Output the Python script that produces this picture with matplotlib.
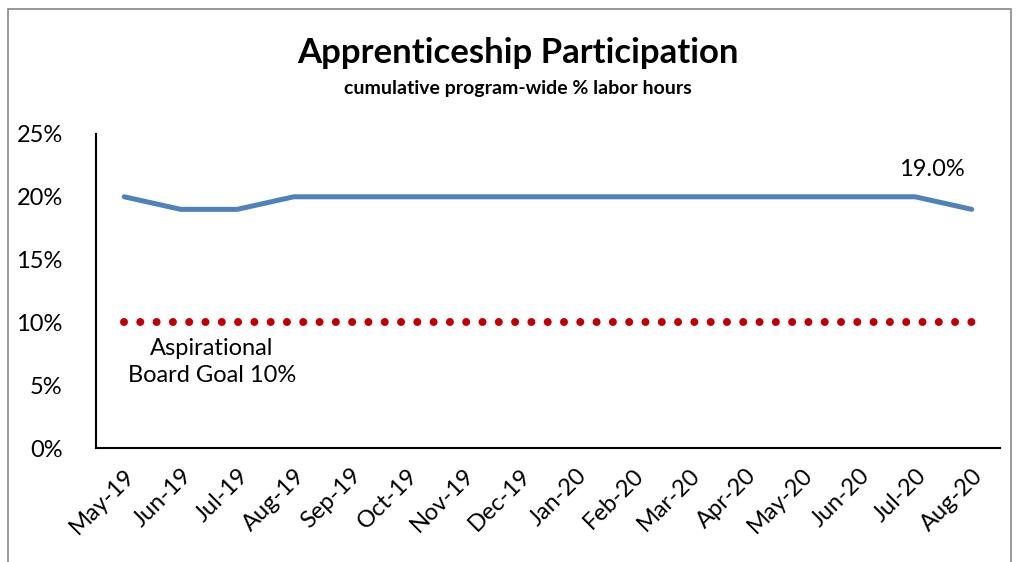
import matplotlib.pyplot as plt
from matplotlib.patches import Rectangle

months = ["May-19", "Jun-19", "Jul-19", "Aug-19", "Sep-19", "Oct-19", "Nov-19", "Dec-19",
          "Jan-20", "Feb-20", "Mar-20", "Apr-20", "May-20", "Jun-20", "Jul-20", "Aug-20"]
participation = [20, 19, 19, 20, 20, 20, 20, 20, 20, 20, 20, 20, 20, 20, 20, 19]
goal = [10] * len(months)

plt.rcParams['font.family'] = ['Lato', 'DejaVu Sans']

fig = plt.figure(figsize=(10.19, 5.62), dpi=100)
ax = fig.add_axes([0.0942, 0.2028, 0.8871, 0.5588])

x = list(range(len(months)))
ax.plot(x, participation, color="#4F81BD", linewidth=3.6, solid_capstyle="round")
ax.plot(x, goal, color="#C00000", linestyle=(0, (0.001, 2.036)), linewidth=5.76,
        dash_capstyle="round")

ax.set_xlim(-0.5, len(months) - 0.5)
ax.set_ylim(0, 25)
ax.set_yticks([0, 5, 10, 15, 20, 25])
ax.set_yticklabels([f"{v}%" for v in [0, 5, 10, 15, 20, 25]])
ax.set_xticks(x)
ax.set_xticklabels(months, rotation=45, ha="right", rotation_mode="anchor")
ax.tick_params(axis="both", length=0, labelsize=17)
ax.tick_params(axis="x", pad=12)
ax.tick_params(axis="y", pad=24)

for s in ["top", "right"]:
    ax.spines[s].set_visible(False)
for s in ["left", "bottom"]:
    ax.spines[s].set_linewidth(1.5)

ax.annotate(f"{participation[-1]:.1f}%", xy=(x[-1], participation[-1]),
            xytext=(-29, 29), textcoords="offset points", ha="center", va="center",
            fontsize=17)
ax.text(1.55, 6.85, "Aspirational\nBoard Goal 10%", ha="center", va="center",
        fontsize=17, linespacing=1.3)

fig.text(0.508, 0.905, "Apprenticeship Participation", ha="center", va="center",
         fontsize=25, fontweight="bold")
fig.text(0.508, 0.843, "cumulative program-wide % labor hours", ha="center", va="center",
         fontsize=14, fontweight="bold")

fig.patches.append(Rectangle((8 / 1019, -0.05), 1003 / 1019, 1 - 9 / 562 + 0.05,
                             transform=fig.transFigure, fill=False,
                             edgecolor="#888888", linewidth=1.2))

fig.savefig("out.png", dpi=100)
